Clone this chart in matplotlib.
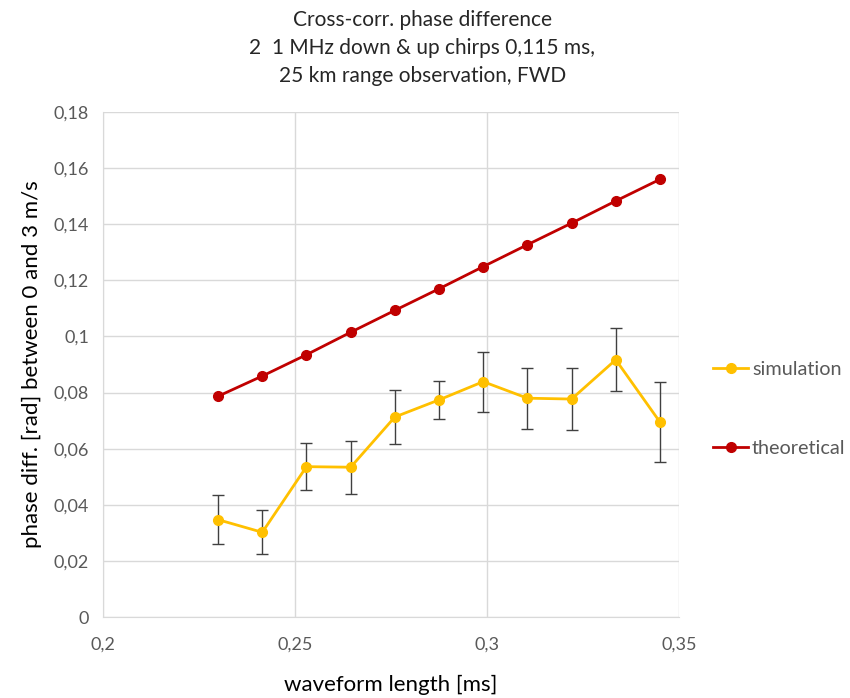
import numpy as np
import matplotlib.pyplot as plt
from matplotlib.ticker import FuncFormatter

plt.rcParams['font.family'] = ['Lato', 'DejaVu Sans']

# Datos
waveform_length = [0.230, 0.2415, 0.253, 0.2645, 0.276, 0.2875, 0.299, 0.3105, 0.322, 0.3335, 0.345]
simulation = [0.0347, 0.0302, 0.0536, 0.0534, 0.0713, 0.0774, 0.0839, 0.0780, 0.0777, 0.0917, 0.0695]
simulation_err = [0.0087, 0.0079, 0.0083, 0.0095, 0.0095, 0.0067, 0.0107, 0.0109, 0.0112, 0.0113, 0.0141]
theoretical = [0.0787, 0.0859, 0.0935, 0.1015, 0.1093, 0.1170, 0.1249, 0.1327, 0.1404, 0.1483, 0.1560]

x_ticks = [0.2, 0.25, 0.3, 0.35]
y_ticks = [0, 0.02, 0.04, 0.06, 0.08, 0.1, 0.12, 0.14, 0.16, 0.18]

yellow = '#FFC000'
red = '#C00000'
grey_text = '#595959'

fig = plt.figure(figsize=(8.5, 6.98), dpi=100)
ax = fig.add_axes([0.121, 0.116, 0.678, 0.7235])

# Barras de error (detrás de los marcadores)
ax.errorbar(waveform_length, simulation, yerr=simulation_err, fmt='none',
            ecolor='#404040', elinewidth=1, capsize=4, capthick=1, zorder=2)
ax.plot(waveform_length, simulation, color=yellow, lw=2, marker='o', ms=7,
        label='simulation', zorder=3)
ax.plot(waveform_length, theoretical, color=red, lw=2, marker='o', ms=7,
        label='theoretical', zorder=3)

ax.set_xlim(0.2, 0.35)
ax.set_ylim(0, 0.18)
ax.set_xticks(x_ticks)
ax.set_yticks(y_ticks)

def comma_fmt(v, pos):
    s = ('%.3f' % v).rstrip('0').rstrip('.')
    return s.replace('.', ',')

ax.xaxis.set_major_formatter(FuncFormatter(comma_fmt))
ax.yaxis.set_major_formatter(FuncFormatter(comma_fmt))

ax.grid(True, color='#d9d9d9', lw=1)
ax.set_axisbelow(True)
for s in ['top', 'right']:
    ax.spines[s].set_visible(False)
ax.spines['left'].set_color('#d9d9d9')
ax.spines['bottom'].set_color('#d9d9d9')
ax.tick_params(length=0, labelsize=13, colors=grey_text, pad=10)
ax.tick_params(axis='x', pad=14)

ax.set_xlabel('waveform length [ms]', fontsize=16, color='black', labelpad=16)
ax.set_ylabel('phase diff. [rad] between 0 and 3 m/s', fontsize=16, color='black', labelpad=8)

fig.text(0.497, 0.986, 'Cross-corr. phase difference\n2  1 MHz down & up chirps 0,115 ms,\n25 km range observation, FWD',
         ha='center', va='top', fontsize=15, color='#262626', linespacing=1.5)

leg = fig.legend(loc='center left', bbox_to_anchor=(0.818, 0.414), frameon=False,
                 fontsize=14.3, labelspacing=3.1, handlelength=1.76, handletextpad=0.2)
for t in leg.get_texts():
    t.set_color(grey_text)

fig.savefig('out.png', dpi=100)
